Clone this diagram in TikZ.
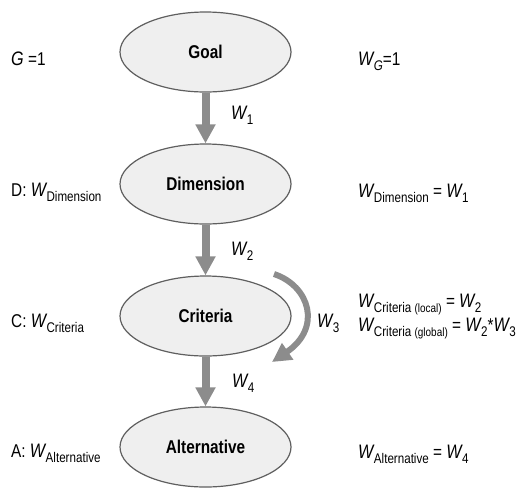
\documentclass[tikz,border=0pt]{standalone}
\usepackage{fontspec}
\setmainfont{Liberation Sans}[FakeStretch=0.83]
\usetikzlibrary{shapes.geometric,arrows.meta}
\definecolor{arrowgray}{RGB}{140,140,140}
\definecolor{nodefill}{RGB}{239,239,239}
\definecolor{nodeline}{RGB}{95,95,95}
\newcommand{\wsub}[1]{{\fontsize{19.5}{22}\selectfont\textit{W}}\kern-0.8pt\raisebox{-5pt}{\fontsize{14}{16}\selectfont #1}}
\newcommand{\paren}[1]{{\fontsize{12}{14}\selectfont #1}}
\tikzset{
  level/.style={ellipse, draw=nodeline, fill=nodefill, line width=1.2pt, minimum width=171pt, minimum height=80pt, inner sep=0pt, font=\fontsize{18.5}{21}\selectfont\bfseries},
  weight/.style={draw=arrowgray, line width=8pt, -{Triangle[width=19pt,length=19pt]}},
  lbl/.style={anchor=base west, inner sep=0pt, font=\fontsize{18.5}{21}\selectfont}
}
\begin{document}
\begin{tikzpicture}[x=1pt,y=-1pt]
\useasboundingbox (0,0) rectangle (518,488);
\node[level] (goal) at (205.5,52) {Goal};
\node[level] (dim) at (205.5,184) {Dimension};
\node[level] (crit) at (205.5,316) {Criteria};
\node[level] (alt) at (205.5,447) {Alternative};
\draw[weight] (goal) -- (dim);
\draw[weight] (dim) -- (crit);
\draw[weight] (crit) -- (alt);
\coordinate (loopa) at (274,274);
\coordinate (loopb) at (272,362);
\draw[weight, line width=6pt] (loopa) .. controls (310,286) and (322,328) .. (loopb);
\node[lbl] (w1) at (231,119) {\wsub{1}};
\node[lbl] (w2) at (231,255) {\wsub{2}};
\node[lbl] (w3) at (317,327) {\wsub{3}};
\node[lbl] (w4) at (232,387) {\wsub{4}};
\node[lbl] (gval) at (11,65) {{\fontsize{19.5}{22}\selectfont\textit{G}} =1};
\node[lbl] (dval) at (11,196) {D: \wsub{Dimension}};
\node[lbl] (cval) at (11,327) {C: \wsub{Criteria}};
\node[lbl] (aval) at (11,457) {A: \wsub{Alternative}};
\node[lbl] (gw) at (358,65) {\wsub{\textit{G}}=1};
\node[lbl] (dw) at (358,197) {\wsub{Dimension} = \wsub{1}};
\node[lbl] (cwl) at (358,307) {\wsub{Criteria \paren{(local)}} = \wsub{2}};
\node[lbl] (cwg) at (358,331) {\wsub{Criteria \paren{(global)}} = \wsub{2}*\wsub{3}};
\node[lbl] (aw) at (358,458) {\wsub{Alternative} = \wsub{4}};
\end{tikzpicture}
\end{document}
